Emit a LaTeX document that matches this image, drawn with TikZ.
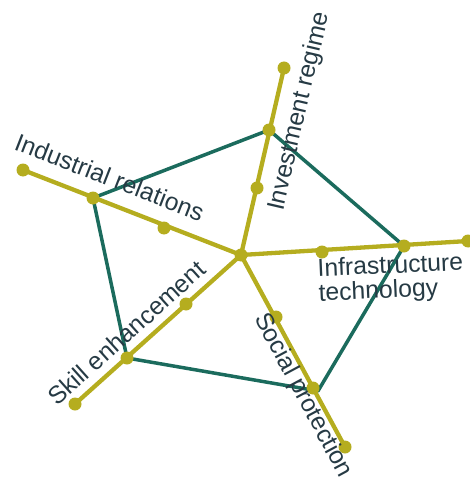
\documentclass[tikz,border=0pt]{standalone}
\usepackage{fontspec}
\setmainfont{Liberation Sans}
\usepackage{tikz}

\definecolor{axisolive}{HTML}{B5AD1F}
\definecolor{polyteal}{HTML}{1B6B5D}
\definecolor{labelslate}{HTML}{263A44}

\begin{document}
\begin{tikzpicture}[x=1pt, y=-1pt,
    axis/.style={draw=axisolive, line width=4.3pt},
    poly/.style={draw=polyteal, line width=3.5pt, line join=round},
    axislabel/.style={text=labelslate, inner sep=0pt, anchor=base west,
        font=\fontsize{24.7}{24.5}\selectfont}]
    \useasboundingbox (0,0) rectangle (470,481);

    % Centre and axis points
    \coordinate (c) at (241,255);
    \coordinate (iv-mid) at (257,188);
    \coordinate (iv-v) at (269,130);
    \coordinate (iv-end) at (284,68);
    \coordinate (ir-mid) at (164,228);
    \coordinate (ir-v) at (93,198);
    \coordinate (ir-end) at (23,170);
    \coordinate (it-mid) at (322,252);
    \coordinate (it-v) at (404,246);
    \coordinate (it-end) at (468,241);
    \coordinate (sp-mid) at (276,317);
    \coordinate (sp-v) at (313,388);
    \coordinate (sp-end) at (345,447);
    \coordinate (sp-poly) at (318,391);
    \coordinate (se-mid) at (186,304);
    \coordinate (se-v) at (127,358);
    \coordinate (se-end) at (75,404);

    % Profile
    \draw[poly] (iv-v) -- (it-v) -- (sp-poly) -- (se-v) -- (ir-v) -- cycle;

    % Axes
    \draw[axis] (c) -- (iv-end);
    \draw[axis] (c) -- (ir-end);
    \draw[axis] (c) -- (it-end);
    \draw[axis] (c) -- (sp-end);
    \draw[axis] (c) -- (se-end);

    % Dots
    \foreach \p in {c, iv-mid, iv-v, iv-end, ir-mid, ir-v, ir-end,
        it-mid, it-v, it-end, sp-mid, sp-v, sp-end, se-mid, se-v, se-end}
        \fill[axisolive] (\p) circle (6.5pt);

    % Labels
    \node[axislabel, rotate=77] (iv-label) at (283,212) {Investment regime};
    \node[axislabel, rotate=-21.3] (ir-label) at (13,149) {Industrial relations};
    \node[axislabel, rotate=2.5, anchor=north west, align=left] (it-label)
        at (317,258.5) {Infrastructure\\technology};
    \node[axislabel, rotate=-61.8] (sp-label) at (254,318) {Social protection};
    \node[axislabel, rotate=41.9] (se-label) at (57,407) {Skill enhancement};
\end{tikzpicture}
\end{document}
